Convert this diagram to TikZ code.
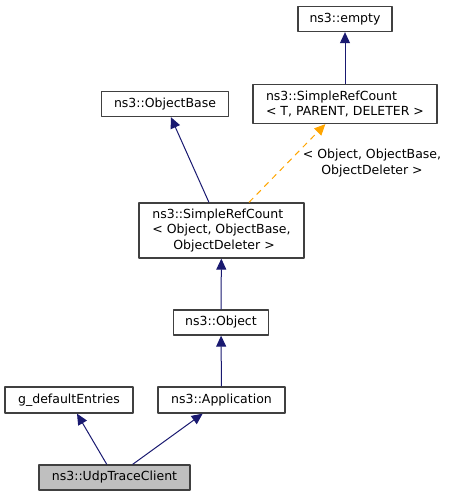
\documentclass[tikz,border=0pt]{standalone}
\usepackage{fontspec}
\setmainfont{DejaVu Sans}
\usetikzlibrary{arrows.meta}
\definecolor{edgeblue}{HTML}{191970}
\definecolor{boxline}{HTML}{404040}
\definecolor{selgray}{HTML}{BFBFBF}
\definecolor{tplorange}{HTML}{FFA500}
\begin{document}
\begin{tikzpicture}[x=1pt,y=-1pt, font=\fontsize{12.5}{15.3}\selectfont, line join=round,
	cls/.style={draw=boxline, line width=1.3pt, fill=white, inner sep=0pt, align=left},
	inh/.style={draw=edgeblue, line width=1pt, -{Triangle[length=11pt,width=10pt]}},
	tpl/.style={draw=tplorange, line width=1pt, dash pattern=on 6pt off 5pt, -{Triangle[length=11pt,width=10pt]}}]
	\useasboundingbox (0,0) rectangle (451,496);
	\node[cls, minimum width=94pt, minimum height=25pt] (empty) at (345,19) {ns3::empty};
	\node[cls, minimum width=184pt, minimum height=39pt] (srcT) at (345,104) {ns3::SimpleRefCount\\< T, PARENT, DELETER >};
	\node[cls, minimum width=127pt, minimum height=25pt] (objbase) at (165,104) {ns3::ObjectBase};
	\node[cls, minimum width=165pt, minimum height=55pt] (srcObj) at (221.5,230.5) {ns3::SimpleRefCount\\< Object, ObjectBase,\\\hspace*{21pt}ObjectDeleter >};
	\node[cls, minimum width=95pt, minimum height=25pt] (object) at (221,322.5) {ns3::Object};
	\node[cls, minimum width=127pt, minimum height=26pt] (app) at (221.5,400) {ns3::Application};
	\node[cls, minimum width=128pt, minimum height=26pt] (gdef) at (69,400) {g\_defaultEntries};
	\node[cls, fill=selgray, minimum width=151pt, minimum height=25pt] (udp) at (114.5,477.5) {ns3::UdpTraceClient};
	\node[align=center, inner sep=0pt] (targs) at (372,163) {< Object, ObjectBase,\\ObjectDeleter >};
	% inheritance
	\draw[inh] (srcT) -- (empty);
	\draw[inh] (srcObj) -- (objbase);
	\draw[tpl] (srcObj) -- (srcT);
	\draw[inh] (object) -- (srcObj);
	\draw[inh] (app) -- (object);
	\draw[inh] (udp) -- (gdef);
	\draw[inh] (udp) -- (app);
\end{tikzpicture}
\end{document}
